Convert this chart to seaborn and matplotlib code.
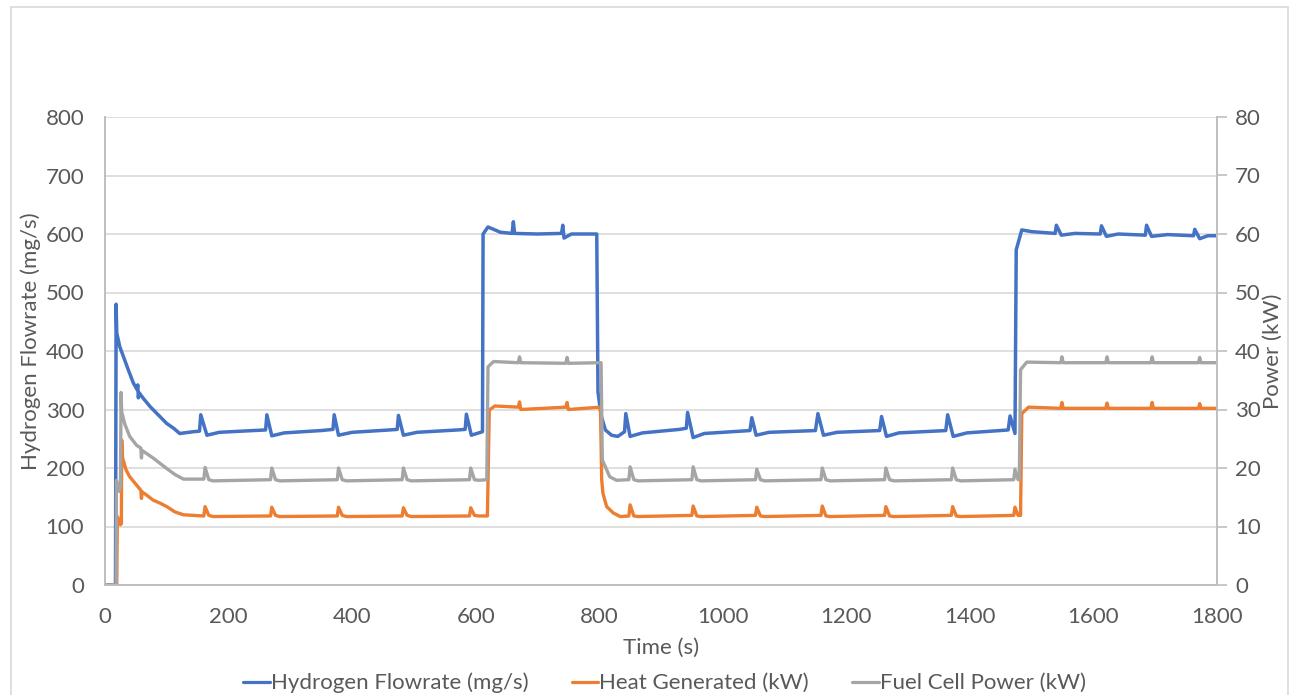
import matplotlib
matplotlib.use("Agg")
import matplotlib.pyplot as plt
from matplotlib.lines import Line2D
import seaborn as sns

sns.set_theme(style="white")
plt.rcParams["font.family"] = ["Lato", "DejaVu Sans"]

# Hydrogen flowrate (mg/s), left axis
h2_time = [0, 17, 18, 19, 24, 30, 38, 46, 52, 53, 54, 55, 62, 73, 86, 100, 111, 121, 143, 153,
           155, 165, 185,
           240, 260, 262, 270, 290, 350, 369, 371, 378, 400, 460, 473, 475, 483, 505,
           570, 583, 585, 593, 611, 612, 620, 640, 659, 661, 663, 700, 739, 741, 743,
           755, 796, 798, 803, 810, 820, 830, 841, 843, 850, 870, 930, 941, 943, 952,
           970, 1044, 1047, 1054, 1075, 1150, 1154, 1163, 1185, 1254, 1257, 1265, 1285,
           1361, 1364, 1373, 1395, 1462, 1465, 1473, 1475, 1484, 1500, 1538, 1540, 1548,
           1570, 1611, 1613, 1621, 1640, 1684, 1686, 1694, 1720, 1762, 1764, 1772, 1785,
           1800]
h2_flow = [0, 0, 480, 431, 407, 390, 367, 345, 334, 342, 320, 329, 319, 305, 291, 276, 268, 259, 262, 263,
           291, 256, 261,
           264, 265, 291, 255, 260, 264, 266, 291, 256, 261, 265, 266, 290, 256, 261,
           265, 266, 292, 256, 262, 600, 612, 603, 601, 621, 601, 600, 601, 615, 593,
           600, 600, 330, 290, 265, 256, 254, 262, 293, 254, 260, 266, 268, 295, 252,
           259, 264, 286, 256, 261, 264, 293, 256, 261, 264, 288, 254, 260,
           264, 291, 254, 260, 265, 289, 259, 573, 607, 604, 601, 615, 598,
           601, 600, 614, 596, 600, 598, 615, 596, 599, 597, 608, 592, 597,
           597]

# Heat generated (kW), right axis
heat_time = [0, 19, 20, 25, 26.5, 27, 28.5, 34, 40, 51, 58, 59, 60, 67, 78, 89, 100, 113, 127,
             160, 162, 168, 175,
             268, 270, 276, 283, 376, 378, 384, 391, 481, 483, 489, 496, 590, 592, 598, 605,
             619, 622, 631, 669, 671, 673, 746, 748, 750, 802, 804, 806, 812, 823, 834,
             848, 850, 856, 863, 950, 952, 958, 965, 1053, 1055, 1061, 1068, 1159, 1161,
             1167, 1174, 1262, 1264, 1270, 1277, 1370, 1372, 1378, 1385, 1471, 1473, 1478,
             1482, 1484, 1495, 1547, 1549, 1551, 1620, 1622, 1624, 1693, 1695, 1697, 1770,
             1772, 1774, 1800]
heat_kw = [0, 0, 11.7, 10.3, 10.5, 24.8, 21.7, 19.7, 18.5, 17.1, 16.2, 14.8, 15.9, 15.4, 14.5, 14.0, 13.4, 12.5, 12.0,
           11.8, 13.4, 11.9, 11.7,
           11.8, 13.3, 11.9, 11.7, 11.8, 13.3, 11.9, 11.7, 11.8, 13.2, 11.9, 11.7, 11.8, 13.2, 11.9, 11.8,
           11.8, 29.9, 30.6, 30.4, 31.3, 30.0, 30.4, 31.2, 30.0, 30.4, 18.0, 15.7, 13.4, 12.3, 11.7,
           11.8, 13.7, 11.8, 11.7, 11.9, 13.5, 11.8, 11.7, 11.9, 13.3, 11.8, 11.7, 11.9, 13.5,
           11.8, 11.7, 11.9, 13.4, 11.8, 11.7, 11.9, 13.4, 11.8, 11.7, 11.9, 13.3, 11.9,
           11.9, 29.3, 30.4, 30.2, 31.2, 30.2, 30.2, 31.1, 30.2, 30.2, 31.2, 30.2, 30.2,
           31.0, 30.2, 30.2]

# Fuel cell power (kW), right axis
power_time = [0, 18, 18.5, 23, 25, 26, 27, 32.4, 40, 51, 58, 59, 60, 67, 78, 89, 100, 113, 127,
              160, 162, 168, 175,
              268, 270, 276, 283, 376, 378, 384, 391, 481, 483, 489, 496, 590, 592, 598, 605,
              618, 620, 629, 669, 671, 673, 746, 748, 750, 803, 805, 817, 828,
              848, 850, 856, 863, 950, 952, 958, 965, 1053, 1055, 1061, 1068, 1159, 1161,
              1167, 1174, 1262, 1264, 1270, 1277, 1370, 1372, 1378, 1385, 1471, 1473, 1478,
              1480, 1482, 1492, 1547, 1549, 1551, 1620, 1622, 1624, 1693, 1695, 1697, 1770,
              1772, 1774, 1800]
power_kw = [0, 0, 17.9, 16.0, 17.0, 32.9, 29.6, 27.4, 25.4, 23.9, 23.4, 21.7, 23.0, 22.5, 21.7, 20.8, 19.9, 18.9, 18.1,
            18.1, 20.1, 18.0, 17.8,
            18.0, 20.0, 18.0, 17.8, 18.0, 20.0, 18.0, 17.8, 18.0, 20.0, 18.0, 17.8, 18.0, 20.0, 18.0, 17.9,
            18.0, 37.3, 38.2, 38.0, 39.0, 38.0, 37.9, 38.9, 37.9, 38.0, 21.4, 18.5, 17.9,
            18.0, 20.2, 18.0, 17.8, 18.0, 20.2, 18.0, 17.8, 18.0, 19.8, 18.0, 17.8, 18.0, 20.0,
            18.0, 17.8, 18.0, 20.0, 18.0, 17.8, 18.0, 20.0, 18.0, 17.8, 18.0, 19.8, 18.0,
            18.0, 36.8, 38.1, 38.0, 39.0, 38.0, 38.0, 39.0, 38.0, 38.0, 39.0, 38.0, 38.0,
            38.9, 38.0, 38.0]

x_ticks = list(range(0, 1801, 200))
left_ticks = list(range(0, 801, 100))
right_ticks = list(range(0, 81, 10))

labels = ["Hydrogen Flowrate (mg/s)", "Heat Generated (kW)", "Fuel Cell Power (kW)"]
colors = ["#4472C4", "#ED7D31", "#A5A5A5"]
text_color = "#595959"
grid_color = "#D9D9D9"
axis_color = "#BFBFBF"
fs = 16

fig = plt.figure(figsize=(12.98, 6.95), dpi=100)
ax = fig.add_axes([105 / 1298, 1 - 585 / 695, 1112 / 1298, 468 / 695])
ax2 = ax.twinx()

sns.lineplot(x=h2_time, y=h2_flow, ax=ax, color=colors[0], lw=2.5,
             estimator=None, sort=False)
sns.lineplot(x=heat_time, y=heat_kw, ax=ax2, color=colors[1], lw=2.4,
             estimator=None, sort=False)
sns.lineplot(x=power_time, y=power_kw, ax=ax2, color=colors[2], lw=2.4,
             estimator=None, sort=False)

ax.set_xlim(0, 1800)
ax.set_ylim(0, 800)
ax2.set_ylim(0, 80)
ax.set_xticks(x_ticks)
ax.set_yticks(left_ticks)
ax2.set_yticks(right_ticks)

ax.grid(axis="y", color=grid_color, lw=1.2)
ax.grid(axis="x", visible=False)
ax2.grid(False)

for a in (ax, ax2):
    a.spines["top"].set_visible(False)
    for side in ("left", "right", "bottom"):
        a.spines[side].set_color(axis_color)
        a.spines[side].set_linewidth(1.2)

ax.tick_params(axis="x", length=0, pad=16, labelsize=fs, labelcolor=text_color)
ax.tick_params(axis="y", length=0, pad=15, labelsize=fs, labelcolor=text_color)
ax2.tick_params(axis="y", length=7, width=1.2, color=axis_color, pad=6,
                labelsize=fs, labelcolor=text_color)

ax.set_xlabel("Time (s)", fontsize=fs, color=text_color, labelpad=8)
ax.set_ylabel("Hydrogen Flowrate (mg/s)", fontsize=fs, color=text_color)
ax.yaxis.set_label_coords(-0.058, 0.52)
ax2.set_ylabel("Power (kW)", fontsize=fs, color=text_color)
ax2.yaxis.set_label_coords(1.041, 0.5)

handles = [Line2D([0], [0], color=c, lw=2.3) for c in colors]
fig.legend(handles, labels, loc="center", bbox_to_anchor=(0.512, 1 - 683 / 695),
           ncol=3, frameon=False, fontsize=fs, labelcolor=text_color,
           handlelength=1.2, handletextpad=0.05, columnspacing=1.95)

# chart area border (left, top, right edges)
fx0, fx1, fy1 = 11 / 1298, 1288 / 1298, 1 - 7 / 695
for xs, ys in (([fx0, fx0], [0, fy1]), ([fx0, fx1], [fy1, fy1]), ([fx1, fx1], [0, fy1])):
    fig.add_artist(Line2D(xs, ys, transform=fig.transFigure, color=grid_color, lw=1.2))

fig.savefig("out.png", dpi=100)
